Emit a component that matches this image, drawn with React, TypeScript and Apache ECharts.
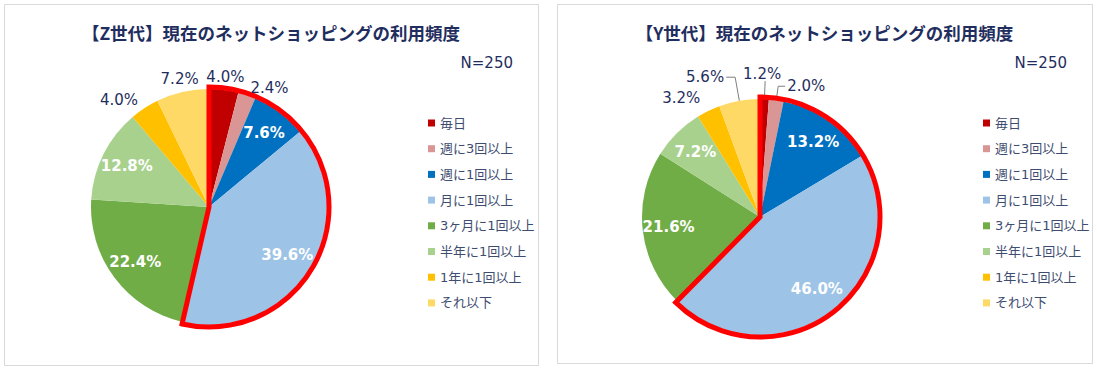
import React, { useEffect, useRef } from "react";
import * as echarts from "echarts";

// ---- data ----
const categories = [
  "毎日",
  "週に3回以上",
  "週に1回以上",
  "月に1回以上",
  "3ヶ月に1回以上",
  "半年に1回以上",
  "1年に1回以上",
  "それ以下",
];
const zValues = [4.0, 2.4, 7.6, 39.6, 22.4, 12.8, 4.0, 7.2];
const yValues = [1.2, 2.0, 13.2, 46.0, 21.6, 7.2, 3.2, 5.6];
const sliceColors = ["#C00000", "#DA9694", "#0070C0", "#9DC3E6", "#70AD47", "#A9D18E", "#FFC000", "#FFD966"];
const titles = ["【Z世代】現在のネットショッピングの利用頻度", "【Y世代】現在のネットショッピングの利用頻度"];
const sampleText = "N=250";
const highlightedCount = 4; // 毎日 .. 月に1回以上 outlined in red

// ---- label placement styles (how each slice's label is shown) ----
// inside: white bold inside; ring: centred just outside; outer: beside a hidden leader; outerline: with leader line
const zModes = ["ring", "outer", "inside", "inside", "inside", "inside", "outer", "ring"];
const yModes = ["outerline", "outerline", "inside", "inside", "inside", "inside", "outer", "outerline"];
const zLineLen = [0, 8, 0, 0, 0, 0, 10, 0];
const zLineLen2 = [0, 0, 0, 0, 0, 0, 0, 0];
const zDist = [1, 1, 1, 1, 1, 1, 1, 1];
const yLineLen = [18, 14, 0, 0, 0, 0, 14, 24];
const yLineLen2 = [0, 7, 0, 0, 0, 0, 0, 9];
const yDist = [-3, 2, 2, 2, 2, 2, 2, 2];
const yCentredAbove = [true, false, false, false, false, false, false, false];

const NAVY = "#1F2E5E";
const LEGEND_TEXT = "#3E4C70";
const NUM_FONT = '"DejaVu Sans", "Noto Sans CJK JP", sans-serif';

const fmt = (v: number) => v.toFixed(1) + "%";

type Layout = {
  cx: number;
  cy: number;
  r: number;
  ring: [number, number];
  lineLen: number[];
  lineLen2: number[];
  dist: number[];
  centredAbove?: boolean[];
};

function buildSeries(values: number[], modes: string[], L: Layout, key: string) {
  const hl = values.slice(0, highlightedCount).reduce((a, b) => a + b, 0);
  const rest = values.slice(highlightedCount).reduce((a, b) => a + b, 0);
  const center = [L.cx, L.cy];
  const main: any = {
    type: "pie",
    id: key + "main",
    center,
    radius: [0, L.r],
    startAngle: 90,
    clockwise: true,
    silent: true,
    avoidLabelOverlap: false,
    label: { show: false },
    labelLine: { show: false },
    emphasis: { disabled: true },
    data: values.map((v, i) => {
      const m = modes[i];
      const outer = m === "outer" || m === "outerline";
      return {
        name: categories[i],
        value: v,
        itemStyle: { color: sliceColors[i], borderWidth: 0 },
        label: outer
          ? {
              show: true,
              position: "outside",
              formatter: fmt(v),
              color: NAVY,
              fontSize: 15,
              fontFamily: NUM_FONT,
              distanceToLabelLine: L.dist[i],
            }
          : { show: false },
        labelLine: {
          show: m === "outerline",
          length: L.lineLen[i],
          length2: L.lineLen2[i],
          smooth: false,
          lineStyle: { color: "#7F7F7F", width: 1 },
        },
      };
    }),
  };
  if (L.centredAbove) {
    const ca = L.centredAbove;
    main.labelLayout = (p: any) => (ca[p.dataIndex] ? { align: "center", verticalAlign: "bottom" } : {});
  }
  const outline = {
    type: "pie",
    id: key + "outline",
    center,
    radius: [0, L.r + 2],
    startAngle: 90,
    clockwise: true,
    silent: true,
    label: { show: false },
    labelLine: { show: false },
    emphasis: { disabled: true },
    data: [
      {
        name: key + "-hl",
        value: hl,
        itemStyle: { color: "rgba(0,0,0,0)", borderColor: "#FF0000", borderWidth: 5, borderJoin: "miter" },
      },
      { name: key + "-rest", value: rest, itemStyle: { color: "rgba(0,0,0,0)", borderWidth: 0 } },
    ],
  };
  const inner = {
    type: "pie",
    id: key + "inner",
    center,
    radius: [60, L.r],
    startAngle: 90,
    clockwise: true,
    silent: true,
    avoidLabelOverlap: false,
    itemStyle: { color: "rgba(0,0,0,0)", borderWidth: 0 },
    emphasis: { disabled: true },
    label: {
      show: true,
      position: "inside",
      color: "#FFFFFF",
      fontWeight: "bold",
      fontSize: 15,
      fontFamily: NUM_FONT,
      formatter: (p: any) => (modes[p.dataIndex] === "inside" ? fmt(p.value) : ""),
    },
    labelLine: { show: false },
    data: values.map((v, i) => ({ name: categories[i], value: v })),
  };
  const ring = {
    type: "pie",
    id: key + "ring",
    center,
    radius: L.ring,
    startAngle: 90,
    clockwise: true,
    silent: true,
    avoidLabelOverlap: false,
    itemStyle: { color: "rgba(0,0,0,0)", borderWidth: 0 },
    emphasis: { disabled: true },
    label: {
      show: true,
      position: "inside",
      color: NAVY,
      fontSize: 15,
      fontFamily: NUM_FONT,
      formatter: (p: any) => (modes[p.dataIndex] === "ring" ? fmt(p.value) : ""),
    },
    labelLine: { show: false },
    data: values.map((v, i) => ({ name: categories[i], value: v })),
  };
  return [main, outline, inner, ring];
}

function legendFor(left: number) {
  return {
    orient: "vertical",
    left,
    top: 110,
    itemWidth: 7,
    itemHeight: 7,
    itemGap: 9.7,
    icon: "rect",
    selectedMode: false,
    data: categories,
    textStyle: {
      color: LEGEND_TEXT,
      fontSize: 13,
      lineHeight: 16,
      fontFamily: NUM_FONT,
    },
  };
}

function panelGraphics(x0: number, x1: number, y0: number, y1: number, title: string) {
  const cx = (x0 + x1) / 2;
  return [
    {
      type: "rect",
      z: -10,
      shape: { x: x0 + 0.5, y: y0 + 0.5, width: x1 - x0, height: y1 - y0 },
      style: { fill: "#FFFFFF", stroke: "#D9D9D9", lineWidth: 1 },
    },
    {
      type: "text",
      x: cx,
      y: 32,
      style: {
        text: title,
        fill: NAVY,
        fontSize: 17.5,
        fontWeight: "bold",
        fontFamily: '"Noto Sans CJK JP", sans-serif',
        align: "center",
        verticalAlign: "middle",
      },
    },
    {
      type: "text",
      x: x1 - 25,
      y: 63,
      style: {
        text: sampleText,
        fill: NAVY,
        fontSize: 15,
        fontFamily: NUM_FONT,
        align: "right",
        verticalAlign: "middle",
      },
    },
  ];
}

export default function App() {
  const ref = useRef<HTMLDivElement>(null);
  useEffect(() => {
    if (!ref.current) return;
    const chart = echarts.init(ref.current, undefined, { renderer: "svg" });
    const zLayout: Layout = { cx: 209, cy: 207, r: 118, ring: [116, 140], lineLen: zLineLen, lineLen2: zLineLen2, dist: zDist };
    const yLayout: Layout = {
      cx: 760,
      cy: 217,
      r: 118,
      ring: [124, 160],
      lineLen: yLineLen,
      lineLen2: yLineLen2,
      dist: yDist,
      centredAbove: yCentredAbove,
    };
    chart.setOption({
      animation: false,
      backgroundColor: "#FFFFFF",
      graphic: [...panelGraphics(4, 538, 4, 365, titles[0]), ...panelGraphics(557, 1092, 4, 363, titles[1])],
      legend: [legendFor(423), legendFor(978)],
      series: [...buildSeries(zValues, zModes, zLayout, "z"), ...buildSeries(yValues, yModes, yLayout, "y")],
    });
    return () => chart.dispose();
  }, []);
  return <div ref={ref} style={{ position: "absolute", left: 0, top: 0, width: 1097, height: 368 }} />;
}
